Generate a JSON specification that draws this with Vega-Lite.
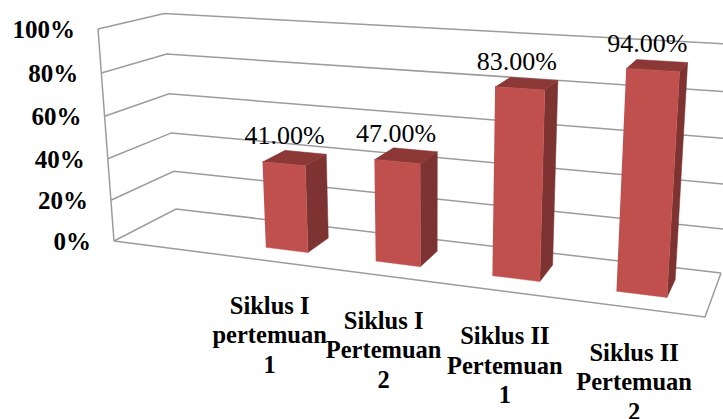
{
  "$schema": "https://vega.github.io/schema/vega-lite/v6.json",
  "width": 723,
  "height": 419,
  "padding": 0,
  "autosize": {"type": "none"},
  "background": "white",
  "config": {"view": {"stroke": null}},
  "datasets": {
    "scores": [
      {"label": "Siklus I\npertemuan\n1", "slot": 1, "value": 0.41},
      {"label": "Siklus I\nPertemuan\n2", "slot": 2, "value": 0.47},
      {"label": "Siklus II\nPertemuan\n1", "slot": 3, "value": 0.83},
      {"label": "Siklus II\nPertemuan\n2", "slot": 4, "value": 0.94}
    ],
    "ticks": [
      {"tick": 0}, {"tick": 0.2}, {"tick": 0.4}, {"tick": 0.6}, {"tick": 0.8}, {"tick": 1}
    ],
    "frame": [
      {"edge": "wall", "k": 0, "u": 0, "d": 0, "h": 0},
      {"edge": "wall", "k": 1, "u": 0, "d": 0, "h": 1},
      {"edge": "floor", "k": 0, "u": 0, "d": 0, "h": 0},
      {"edge": "floor", "k": 1, "u": 1, "d": 0, "h": 0},
      {"edge": "floor", "k": 2, "u": 1, "d": 1, "h": 0}
    ]
  },
  "encoding": {
    "x": {"field": "px", "type": "quantitative", "axis": null, "scale": {"domain": [0, 723], "nice": false, "zero": false}},
    "y": {"field": "py", "type": "quantitative", "axis": null, "scale": {"domain": [0, 419], "reverse": true, "nice": false, "zero": false}}
  },
  "layer": [
    {
      "data": {"name": "ticks"},
      "transform": [
        {"calculate": "[0,1,2]", "as": "k"},
        {"flatten": ["k"]},
        {"calculate": "datum.k == 2 ? 1 : 0", "as": "u"},
        {"calculate": "datum.k == 0 ? 0 : 1", "as": "d"},
        {"calculate": "datum.tick", "as": "h"},
        {"calculate": "1 - 0.1438*datum.u + 0.0886*datum.d - 0.048*datum.h", "as": "w"},
        {"calculate": "(489.6*datum.u + 77.6*datum.d - 20.7*datum.h + 114) / datum.w", "as": "px"},
        {"calculate": "(30.4*datum.u - 13.5*datum.d + 241 - (213.4 + 4.6*datum.u)*datum.h) / datum.w", "as": "py"}
      ],
      "mark": {"type": "line", "stroke": "#9c9c9c", "strokeWidth": 1.5, "clip": true},
      "encoding": {
        "detail": {"field": "tick"},
        "order": {"field": "k", "type": "quantitative"}
      }
    },
    {
      "data": {"name": "frame"},
      "transform": [
        {"calculate": "1 - 0.1438*datum.u + 0.0886*datum.d - 0.048*datum.h", "as": "w"},
        {"calculate": "(489.6*datum.u + 77.6*datum.d - 20.7*datum.h + 114) / datum.w", "as": "px"},
        {"calculate": "(30.4*datum.u - 13.5*datum.d + 241 - (213.4 + 4.6*datum.u)*datum.h) / datum.w", "as": "py"}
      ],
      "mark": {"type": "line", "stroke": "#9c9c9c", "strokeWidth": 1.5},
      "encoding": {
        "detail": {"field": "edge"},
        "order": {"field": "k", "type": "quantitative"}
      }
    },
    {
      "data": {"name": "scores"},
      "transform": [
        {"calculate": "['side','top','front']", "as": "face"},
        {"flatten": ["face"]},
        {"calculate": "[0,1,2,3]", "as": "k"},
        {"flatten": ["k"]},
        {"calculate": "0.096 + 0.2*datum.slot", "as": "uc"},
        {"calculate": "datum.face == 'side' ? datum.uc + 0.039 : datum.uc + ((datum.k == 1 || datum.k == 2) ? 0.039 : -0.039)", "as": "u"},
        {"calculate": "datum.face == 'front' ? 0.30 : datum.face == 'side' ? ((datum.k == 1 || datum.k == 2) ? 0.71 : 0.30) : (datum.k >= 2 ? 0.71 : 0.30)", "as": "d"},
        {"calculate": "datum.face == 'top' ? datum.value : (datum.k >= 2 ? datum.value : 0)", "as": "h"},
        {"calculate": "1 - 0.1438*datum.u + 0.0886*datum.d - 0.048*datum.h", "as": "w"},
        {"calculate": "(489.6*datum.u + 77.6*datum.d - 20.7*datum.h + 114) / datum.w", "as": "px"},
        {"calculate": "(30.4*datum.u - 13.5*datum.d + 241 - (213.4 + 4.6*datum.u)*datum.h) / datum.w", "as": "py"}
      ],
      "mark": {"type": "line", "strokeWidth": 0.5},
      "encoding": {
        "detail": {"field": "slot"},
        "fill": {"field": "face", "type": "nominal", "legend": null, "scale": {"domain": ["front", "side", "top"], "range": ["#c0504d", "#7c3331", "#8b3836"]}},
        "stroke": {"field": "face", "type": "nominal", "legend": null, "scale": {"domain": ["front", "side", "top"], "range": ["#c0504d", "#7c3331", "#8b3836"]}},
        "order": {"field": "k", "type": "quantitative"}
      }
    },
    {
      "data": {"name": "ticks"},
      "transform": [
        {"calculate": "1 - 0.048*datum.tick", "as": "w"},
        {"calculate": "(114 - 20.7*datum.tick) / datum.w", "as": "px"},
        {"calculate": "(241 - 213.4*datum.tick) / datum.w", "as": "py"}
      ],
      "mark": {"type": "text", "font": "Liberation Serif", "fontWeight": "bold", "fontSize": 25, "align": "right", "baseline": "middle", "dx": -23, "dy": 1, "fill": "#000000"},
      "encoding": {
        "text": {"field": "tick", "type": "quantitative", "format": ".0%"}
      }
    },
    {
      "data": {"name": "scores"},
      "transform": [
        {"calculate": "0.096 + 0.2*datum.slot", "as": "u"},
        {"calculate": "1 - 0.1438*datum.u + 0.0443 - 0.048*datum.value", "as": "w"},
        {"calculate": "(489.6*datum.u + 38.8 - 20.7*datum.value + 114) / datum.w", "as": "px"},
        {"calculate": "(30.4*datum.u - 6.75 + 241 - (213.4 + 4.6*datum.u)*datum.value) / datum.w", "as": "py"}
      ],
      "mark": {"type": "text", "font": "Liberation Serif", "fontSize": 26, "align": "center", "baseline": "middle", "dx": -10, "dy": -22, "fill": "#000000"},
      "encoding": {
        "text": {"field": "value", "type": "quantitative", "format": ".2%"}
      }
    },
    {
      "data": {"name": "scores"},
      "transform": [
        {"calculate": "0.1 + 0.2*datum.slot", "as": "u"},
        {"calculate": "1 - 0.1438*datum.u", "as": "w"},
        {"calculate": "(489.6*datum.u + 114) / datum.w", "as": "px"},
        {"calculate": "(30.4*datum.u + 241) / datum.w", "as": "py"}
      ],
      "mark": {"type": "text", "font": "Liberation Serif", "fontWeight": "bold", "fontSize": 24.5, "align": "center", "baseline": "top", "lineBreak": "\n", "lineHeight": 29.5, "dx": -3, "dy": 33.5, "fill": "#000000"},
      "encoding": {
        "text": {"field": "label", "type": "nominal"}
      }
    }
  ]
}
